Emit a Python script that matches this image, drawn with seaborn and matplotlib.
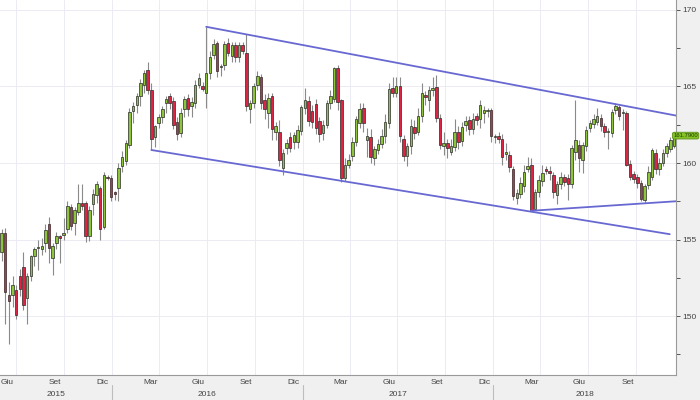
import pandas as pd
import numpy as np
import matplotlib
matplotlib.use('Agg')
import matplotlib.pyplot as plt
import matplotlib.dates as mdates
import matplotlib.transforms as mtransforms
from matplotlib.ticker import MultipleLocator, FuncFormatter, FixedLocator
import seaborn as sns

# weekly candles, first bar week of 4 June 2015
first_week = '2015-06-04'
opens = [154.2, 155.4, 151.4, 151.4, 151.7, 152.6, 153.2, 151.2, 152.6, 153.9,
         154.45, 154.4, 154.8, 156.0, 153.8, 154.8, 155.2, 155.3, 155.7, 157.1,
         156.1, 156.8, 157.4, 157.4, 155.2, 157.3, 157.9, 158.4, 155.8, 159.1,
         159.0, 158.1, 158.4, 159.8, 160.1, 161.2, 163.4, 163.8, 164.4, 165.1,
         166.1, 164.8, 161.7, 162.6, 163.0, 163.9, 164.4, 164.05, 162.7, 161.95,
         163.5, 164.25, 163.7, 163.9, 165.1, 165.0, 164.6, 165.9, 167.05, 167.85,
         166.3, 166.4, 167.85, 167.0, 167.7, 166.9, 167.7, 167.2, 163.5, 163.9,
         165.1, 165.6, 164.1, 163.3, 164.4, 162.0, 162.0, 159.7, 161.0, 161.7,
         161.4, 161.4, 162.1, 163.6, 164.05, 163.4, 163.85, 162.75, 161.95, 162.5,
         163.9, 164.2, 166.2, 164.1, 159.0, 159.9, 160.45, 161.4, 162.6, 163.6,
         161.5, 161.7, 160.3, 160.85, 161.25, 161.75, 162.6, 164.9, 164.6, 165.0,
         161.55, 160.45, 161.1, 162.35, 162.0, 163.1, 164.45, 164.1, 164.8, 164.95,
         162.95, 161.1, 161.3, 160.7, 161.05, 162.0, 161.45, 162.5, 162.8, 162.2,
         163.05, 162.9, 163.3, 163.4, 163.45, 161.7, 161.75, 161.6, 160.6, 160.5,
         159.6, 157.7, 158.0, 158.5, 159.6, 159.9, 157.0, 158.1, 158.8, 159.6,
         159.5, 159.2, 157.9, 158.6, 159.1, 159.0, 158.6, 160.7, 161.2, 160.2,
         161.1, 162.3, 162.55, 162.7, 162.95, 162.4, 162.0, 161.95, 163.45, 163.65,
         163.3, 163.25, 159.95, 159.3, 159.1, 158.7, 157.6, 158.55, 159.1, 160.65,
         159.6, 160.0, 160.65, 160.9, 161.1]
highs = [155.7, 155.75, 152.2, 152.6, 152.0, 153.1, 154.2, 152.8, 154.0, 154.5,
         155.0, 155.1, 156.0, 156.5, 154.8, 155.5, 155.3, 156.4, 157.5, 157.3,
         157.1, 158.6, 158.6, 157.5, 157.2, 158.3, 158.8, 158.5, 159.4, 159.2,
         159.2, 158.2, 160.0, 160.8, 161.5, 163.6, 164.0, 164.6, 165.5, 166.1,
         166.6, 165.2, 162.5, 163.2, 163.7, 164.4, 164.6, 164.3, 163.0, 163.6,
         164.4, 164.5, 164.3, 165.4, 165.9, 165.3, 168.9, 167.3, 168.1, 168.0,
         166.5, 168.0, 168.2, 167.9, 167.9, 167.9, 167.9, 168.4, 164.1, 165.2,
         166.0, 165.8, 164.5, 164.6, 164.6, 162.7, 162.8, 160.9, 161.6, 162.0,
         162.0, 162.5, 163.8, 164.9, 164.4, 163.8, 164.2, 163.0, 162.8, 164.1,
         164.8, 166.3, 166.4, 164.2, 160.3, 160.6, 161.7, 163.1, 163.9, 163.9,
         162.3, 162.2, 161.1, 161.6, 162.2, 163.2, 165.2, 165.6, 165.6, 165.6,
         161.8, 161.3, 162.9, 162.8, 163.6, 165.2, 164.7, 165.0, 165.6, 165.75,
         163.2, 162.0, 161.6, 161.6, 162.9, 162.4, 162.7, 163.1, 163.1, 163.3,
         163.3, 164.1, 163.7, 163.6, 163.6, 161.9, 162.0, 161.9, 161.3, 160.8,
         159.8, 158.3, 159.1, 159.9, 160.4, 160.3, 158.3, 159.2, 159.9, 159.8,
         159.8, 159.4, 158.8, 159.4, 159.3, 159.3, 161.2, 164.1, 161.5, 161.4,
         162.4, 162.8, 163.2, 163.6, 163.2, 162.6, 162.3, 163.5, 163.9, 163.8,
         163.5, 163.4, 160.2, 159.5, 159.3, 158.9, 158.6, 159.8, 161.0, 160.9,
         160.3, 160.9, 161.3, 161.7, 162.0]
lows = [153.6, 149.5, 148.2, 150.6, 149.8, 151.3, 150.4, 149.5, 152.3, 153.3,
        153.0, 154.0, 154.2, 153.5, 152.7, 154.4, 153.5, 155.0, 155.4, 155.6,
        155.3, 156.6, 156.9, 154.85, 154.9, 156.6, 157.4, 155.0, 155.7, 158.9,
        157.5, 157.6, 157.5, 159.4, 159.9, 161.0, 162.6, 163.3, 163.7, 164.6,
        164.5, 160.85, 161.05, 162.3, 162.6, 163.3, 163.5, 162.2, 161.5, 161.7,
        163.0, 163.1, 163.0, 163.6, 164.9, 164.7, 163.6, 165.5, 166.8, 165.6,
        165.7, 166.1, 167.0, 166.6, 166.6, 166.6, 167.1, 163.4, 162.6, 163.6,
        164.8, 163.5, 162.9, 162.3, 161.5, 161.5, 159.8, 159.2, 160.6, 160.7,
        160.9, 161.0, 161.8, 163.2, 162.4, 162.3, 161.9, 161.4, 161.5, 162.3,
        163.5, 164.0, 163.45, 158.75, 158.8, 159.7, 160.1, 161.1, 162.3, 162.0,
        160.4, 160.0, 159.9, 160.6, 161.0, 161.3, 162.3, 164.3, 164.3, 161.4,
        160.1, 159.8, 160.6, 161.6, 161.8, 162.7, 163.8, 163.4, 164.4, 162.7,
        160.9, 160.5, 160.3, 160.5, 160.8, 160.9, 161.1, 162.1, 161.8, 161.9,
        162.5, 162.3, 162.6, 163.0, 161.4, 161.3, 161.3, 159.9, 160.2, 159.4,
        157.6, 157.3, 157.7, 158.1, 159.4, 156.85, 156.9, 157.8, 158.5, 159.3,
        158.9, 157.7, 157.3, 158.3, 158.5, 157.6, 158.4, 160.2, 159.4, 159.35,
        160.8, 162.0, 162.3, 162.5, 162.1, 161.7, 160.9, 161.7, 163.2, 162.8,
        162.15, 159.8, 158.9, 158.7, 158.4, 157.5, 157.4, 158.3, 158.9, 159.3,
        159.2, 159.8, 160.4, 160.7, 161.0]
closes = [155.4, 151.6, 151.0, 152.0, 150.1, 151.8, 150.7, 152.6, 153.9, 154.4,
          154.5, 154.6, 155.6, 154.45, 154.6, 155.2, 155.1, 155.4, 157.2, 155.9,
          156.9, 157.4, 157.2, 155.2, 156.9, 158.0, 158.6, 155.7, 159.2, 159.0,
          157.8, 158.0, 159.7, 160.4, 161.3, 163.3, 163.7, 164.4, 165.2, 165.9,
          164.8, 161.6, 162.4, 163.0, 163.5, 164.2, 163.9, 162.5, 161.9, 163.3,
          164.2, 163.5, 164.0, 165.1, 165.55, 164.85, 165.9, 166.9, 167.8, 166.0,
          166.35, 167.8, 167.2, 167.7, 166.9, 167.7, 167.3, 163.7, 163.9, 165.0,
          165.7, 163.9, 163.5, 164.25, 162.2, 162.4, 160.2, 160.65, 161.3, 161.0,
          161.8, 162.15, 163.65, 164.1, 162.75, 162.7, 162.3, 161.9, 162.5, 163.9,
          164.4, 166.2, 164.0, 159.0, 159.9, 160.2, 161.4, 162.9, 163.5, 162.6,
          161.75, 160.4, 160.9, 161.25, 161.75, 162.7, 164.85, 164.6, 165.0, 161.75,
          160.45, 161.1, 162.4, 161.95, 163.1, 164.6, 164.3, 164.8, 164.9, 162.95,
          161.2, 161.3, 161.0, 161.1, 162.0, 161.35, 162.35, 162.75, 162.2, 162.9,
          162.8, 163.8, 163.45, 163.45, 161.75, 161.75, 161.55, 160.4, 160.7, 159.75,
          157.85, 158.05, 158.7, 159.4, 159.8, 156.9, 158.1, 158.9, 159.35, 159.5,
          159.35, 158.1, 158.6, 159.1, 158.75, 158.6, 161.0, 161.5, 160.3, 161.2,
          162.15, 162.6, 162.9, 163.1, 162.4, 162.0, 162.1, 163.35, 163.7, 163.05,
          163.35, 159.9, 159.1, 158.95, 158.7, 157.65, 158.5, 159.4, 160.85, 159.6,
          160.0, 160.65, 161.1, 161.5, 161.79]
last_label = '161.7900'

# trend lines (start / end date, price)
upper_dates = ['2016-06-30', '2018-12-17']
upper_vals = [168.9, 163.1]
lower_dates = ['2016-03-17', '2018-12-05']
lower_vals = [160.85, 155.35]
support_dates = ['2018-03-15', '2018-12-17']
support_vals = [156.88, 157.5]

# quarter labels on the date band (mid month)
label_dates = pd.date_range('2015-06-01', '2018-09-01', freq='3MS') + pd.Timedelta(days=14)
month_names = {3: 'Mar', 6: 'Giu', 9: 'Set', 12: 'Dic'}
years = [2015, 2016, 2017, 2018]

sns.set_style('white')
plt.rcParams['font.family'] = ['Liberation Sans Narrow', 'Liberation Sans', 'DejaVu Sans']

x_start = mdates.date2num(pd.Timestamp('2015-06-01'))
x_end = mdates.date2num(pd.Timestamp('2018-12-17'))

fig = plt.figure(figsize=(7, 4), dpi=100, facecolor='#f0f0f0')
ax = fig.add_axes([0, 25 / 400, 676 / 700, 375 / 400])
ax.set_facecolor('white')

dates = pd.date_range(first_week, periods=len(closes), freq='7D')
x = mdates.date2num(dates)
o = np.array(opens)
c = np.array(closes)
colors = np.where(c >= o, '#8cc43c', '#dc2543')

# quarter grid + price grid
for q in pd.date_range('2015-07-01', '2018-12-01', freq='QS'):
    ax.axvline(mdates.date2num(q), color='#ebebf3', lw=0.7, zorder=0)
ax.grid(True, axis='y', which='major', color='#ebebf3', lw=0.7, zorder=0)

# candles
ax.vlines(x, lows, highs, color='#8a8a8a', lw=0.8, zorder=2)
ax.bar(x, c - o, bottom=o, width=4.8, color=colors, edgecolor='#2a2a2a',
       linewidth=0.5, zorder=3)

# trend lines
for d, v in [(upper_dates, upper_vals), (lower_dates, lower_vals), (support_dates, support_vals)]:
    sns.lineplot(x=mdates.date2num(pd.to_datetime(d)), y=v, ax=ax, color='#6868d2',
                 lw=1.3, zorder=4, estimator=None)

ax.set_xlim(x_start, x_end)
ax.set_ylim(146.15, 170.65)

# right price axis
ax.yaxis.tick_right()
ax.yaxis.set_major_locator(MultipleLocator(5))
ax.yaxis.set_minor_locator(MultipleLocator(2.5))
ax.yaxis.set_major_formatter(FuncFormatter(lambda v, p: f'{v:.0f}'))
ax.tick_params(axis='y', which='both', direction='out', length=3, width=0.7,
               color='#555555', labelsize=6, labelcolor='#444444', pad=1.5, right=True, left=False)

# date axis
ax.xaxis.set_major_locator(mdates.MonthLocator())
ax.xaxis.set_major_formatter(FuncFormatter(lambda v, p: ''))
ax.xaxis.set_minor_locator(FixedLocator(mdates.date2num(label_dates)))
ax.xaxis.set_minor_formatter(FuncFormatter(lambda v, p: month_names.get(mdates.num2date(v).month, '')))
ax.tick_params(axis='x', which='major', direction='out', length=3, width=0.7, color='#777777')
ax.tick_params(axis='x', which='minor', length=0, labelsize=6, labelcolor='#444444', pad=3)

for s in ['left', 'top']:
    ax.spines[s].set_visible(False)
for s in ['right', 'bottom']:
    ax.spines[s].set_color('#9a9a9a')
    ax.spines[s].set_linewidth(0.8)

# year labels and separators in the date band
trans = mtransforms.blended_transform_factory(ax.transData, ax.transAxes)
for yr in years:
    a = max(mdates.date2num(pd.Timestamp(f'{yr}-01-01')), x_start)
    b = min(mdates.date2num(pd.Timestamp(f'{yr + 1}-01-01')), x_end)
    ax.text((a + b) / 2, -0.053, str(yr), transform=trans, ha='center', va='center',
            fontsize=6, color='#444444')
    if yr > 2015:
        ax.plot([a, a], [-0.027, -0.07], transform=trans, clip_on=False,
                color='#bdbdbd', lw=0.8)

# last price tag, pinned to the right edge of the figure
tag = mtransforms.blended_transform_factory(fig.transFigure, ax.transData)
ax.text(0.997, closes[-1], last_label, transform=tag, ha='right', va='center',
        fontsize=4.2, color='#1f3a05', clip_on=False, zorder=6,
        bbox=dict(boxstyle='round,pad=0.15,rounding_size=0.3', fc='#84c225', ec='#5e9016', lw=0.6))

fig.savefig('out.png', dpi=100, facecolor=fig.get_facecolor())
